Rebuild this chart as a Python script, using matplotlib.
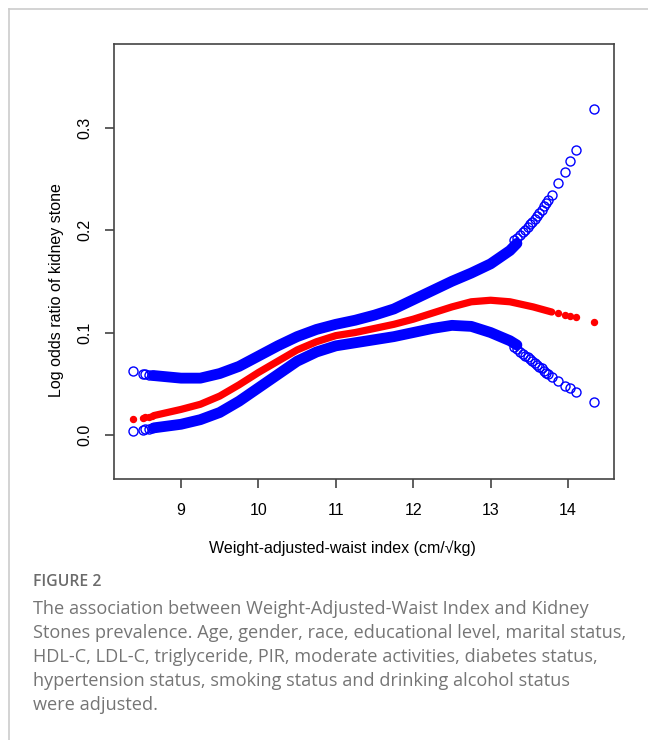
import numpy as np
import matplotlib
matplotlib.use("Agg")
import matplotlib.pyplot as plt
from matplotlib.lines import Line2D

plt.rcParams['font.family'] = ['Liberation Sans', 'DejaVu Sans']

# fitted curve (dense part), log odds ratio and 95% CI
wwi_fit = [8.65, 9.0, 9.25, 9.5, 9.75, 10.0, 10.25, 10.5, 10.75, 11.0, 11.25,
           11.5, 11.75, 12.0, 12.25, 12.5, 12.75, 13.0, 13.25, 13.34]
est_fit = [0.019, 0.025, 0.030, 0.038, 0.049, 0.061, 0.072, 0.083, 0.091, 0.097, 0.100,
           0.104, 0.108, 0.113, 0.119, 0.125, 0.130, 0.1315, 0.130, 0.1285]
low_fit = [0.007, 0.0105, 0.015, 0.022, 0.033, 0.046, 0.059, 0.072, 0.081, 0.087, 0.090,
           0.093, 0.096, 0.100, 0.104, 0.107, 0.106, 0.100, 0.092, 0.0878]
upp_fit = [0.058, 0.0555, 0.0555, 0.060, 0.067, 0.077, 0.087, 0.096, 0.103, 0.108, 0.112,
           0.117, 0.123, 0.132, 0.141, 0.150, 0.158, 0.167, 0.180, 0.187]

# estimate keeps dense a little further right
wwi_est_tail = [13.55, 13.79]
est_tail = [0.125, 0.120]

# sparse observations at both ends
wwi_left = [8.38, 8.505, 8.535, 8.58, 8.62]
est_left = [0.0156, 0.0169, 0.0176, 0.018, 0.0185]
low_left = [0.0039, 0.0049, 0.0055, 0.006, 0.0065]
upp_left = [0.0624, 0.060, 0.0595, 0.059, 0.0585]

wwi_ci_right = [13.30, 13.34, 13.38, 13.42, 13.45, 13.48, 13.51, 13.54, 13.57,
                13.60, 13.63, 13.66, 13.69, 13.72, 13.74, 13.79,
                13.876, 13.96, 14.03, 14.10, 14.336]
upp_right = [0.190, 0.192, 0.195, 0.198, 0.200, 0.203, 0.206, 0.208, 0.211,
             0.214, 0.217, 0.220, 0.223, 0.226, 0.229, 0.234,
             0.246, 0.257, 0.267, 0.278, 0.318]
low_right = [0.0860, 0.0835, 0.0813, 0.079, 0.0775, 0.0758, 0.074, 0.072, 0.070,
             0.068, 0.0665, 0.065, 0.0625, 0.0608, 0.0595, 0.057,
             0.0524, 0.0478, 0.0455, 0.0417, 0.032]

wwi_est_right = [13.876, 13.96, 14.03, 14.10, 14.336]
est_right = [0.1187, 0.1174, 0.1164, 0.1148, 0.1106]

xticks = [9, 10, 11, 12, 13, 14]
yticks = [0.0, 0.1, 0.2, 0.3]

caption = ("The association between Weight-Adjusted-Waist Index and Kidney\n"
           "Stones prevalence. Age, gender, race, educational level, marital status,\n"
           "HDL-C, LDL-C, triglyceride, PIR, moderate activities, diabetes status,\n"
           "hypertension status, smoking status and drinking alcohol status\n"
           "were adjusted.")

fig = plt.figure(figsize=(6.48, 7.40), dpi=100)
ax = fig.add_axes([114/648, 1-479/740, 499.5/648, 435/740])

blue = '#0000ff'
red = '#ff0000'

# CI bands and estimate
ax.plot(wwi_fit, upp_fit, color=blue, lw=7.8, solid_capstyle='round', solid_joinstyle='round')
ax.plot(wwi_fit, low_fit, color=blue, lw=7.8, solid_capstyle='round', solid_joinstyle='round')
ax.plot(wwi_fit + wwi_est_tail, est_fit + est_tail, color=red, lw=5.2,
        solid_capstyle='round', solid_joinstyle='round')

ax.plot(wwi_left, upp_left, 'o', mfc='none', mec=blue, ms=6.5, mew=1)
ax.plot(wwi_left, low_left, 'o', mfc='none', mec=blue, ms=6.5, mew=1)
ax.plot(wwi_left, est_left, 'o', color=red, ms=4.3)
ax.plot(wwi_ci_right, upp_right, 'o', mfc='none', mec=blue, ms=6.5, mew=1)
ax.plot(wwi_ci_right, low_right, 'o', mfc='none', mec=blue, ms=6.5, mew=1)
ax.plot(wwi_est_right, est_right, 'o', color=red, ms=4.3)

ax.set_xlim(8.134, 14.588)
ax.set_ylim(-0.0429, 0.3815)
ax.set_xticks(xticks)
ax.set_xticklabels([str(t) for t in xticks])
ax.set_yticks(yticks)
ax.set_yticklabels(['%.1f' % t for t in yticks])
for lbl in ax.get_yticklabels():
    lbl.set_rotation(90)
    lbl.set_va('center')

for sp in ax.spines.values():
    sp.set_color('#444444')
    sp.set_linewidth(1.2)
ax.tick_params(axis='both', length=6.5, width=1.1, color='#333333', labelsize=11.5)
ax.tick_params(axis='x', pad=11)
ax.tick_params(axis='y', pad=9)

fig.text(342.5/648, 1-548/740, 'Weight-adjusted-waist index (cm/\u221akg)',
         ha='center', va='center', fontsize=11.5)
fig.text(57/648, 1-290/740, 'Log odds ratio of kidney stone',
         ha='center', va='center', rotation=90, fontsize=11.5)

# caption below the panel
fig.text(33/648, 1-582/740, 'FIGURE 2', ha='left', va='center',
         fontsize=11.3, color='#6b6b6b', fontweight='semibold', family='Open Sans')
fig.text(33/648, 1-600/740, caption, ha='left', va='top', fontsize=13.1,
         color='#757575', family='Open Sans', linespacing=1.43)

# page frame lines
fig.add_artist(Line2D([9/648, 1], [1-9/740, 1-9/740], color='#cccccc', lw=1.2))
fig.add_artist(Line2D([9/648, 9/648], [0, 1-9/740], color='#cccccc', lw=1.2))

fig.savefig('out.png', dpi=100)
